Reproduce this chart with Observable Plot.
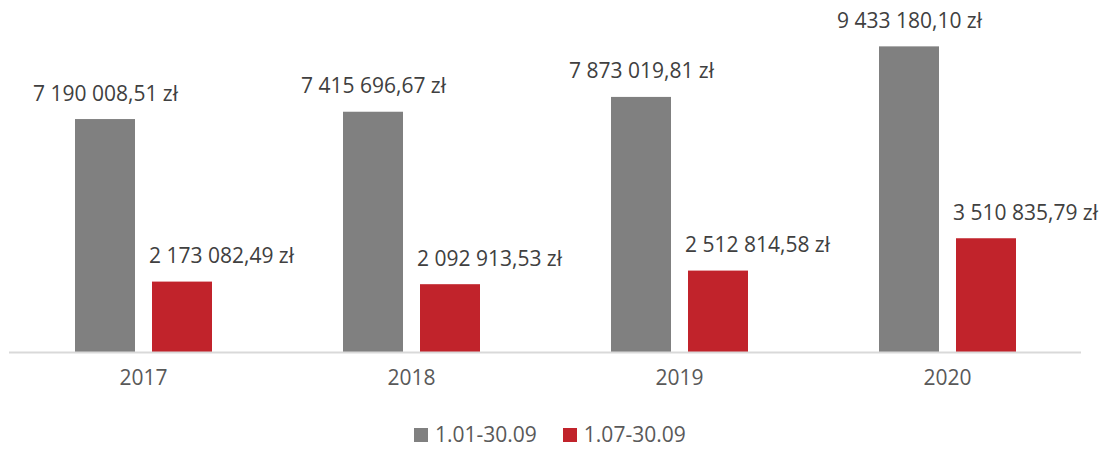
<!DOCTYPE html>
<html>
<head>
<meta charset="utf-8">
<script src="https://cdn.jsdelivr.net/npm/d3@7"></script>
<script src="https://cdn.jsdelivr.net/npm/@observablehq/plot@0.6"></script>
<style>
  html, body { margin: 0; padding: 0; background: #fff; }
  body { width: 1109px; font-family: "Open Sans", sans-serif; }
  #chart svg { display: block; }
  #legend { margin-top: 11px; padding-left: 414px; display: flex; align-items: center; font-size: 21px; color: #595959; line-height: 27px; height: 27px; }
  #legend .item { display: flex; align-items: center; margin-right: 26px; }
  #legend .sw { width: 14px; height: 14px; margin-right: 7px; }
</style>
</head>
<body>
<div id="chart"></div>
<div id="legend"></div>
<script>
const years = ["2017", "2018", "2019", "2020"];
const series = ["1.01-30.09", "1.07-30.09"];
const full = [7190008.51, 7415696.67, 7873019.81, 9433180.10];
const partial = [2173082.49, 2092913.53, 2512814.58, 3510835.79];
const colors = ["#808080", "#c1232b"];

const data = [];
years.forEach((y, i) => {
  data.push({year: y, series: series[0], value: full[i]});
  data.push({year: y, series: series[1], value: partial[i]});
});

const loc = d3.formatLocale({decimal: ",", thousands: "\u00a0", grouping: [3], currency: ["", " zł"]});
const fmt = loc.format(",.2f");
const label = d => fmt(d.value).replace(/\u00a0/g, " ") + " zł";

const chart = Plot.plot({
  width: 1109,
  height: 410,
  marginTop: 28,
  marginBottom: 58,
  marginLeft: 9,
  marginRight: 28,
  style: {fontFamily: "'Open Sans', sans-serif", fontSize: "21px", color: "#595959", background: "#fff"},
  fx: {domain: years, paddingInner: 0, paddingOuter: 0, axis: "bottom", tickSize: 0, tickPadding: 18, label: null},
  x: {domain: series, paddingInner: 0.2208, paddingOuter: 0.85, axis: null},
  y: {domain: [0, 10000000], axis: null},
  color: {domain: series, range: colors},
  marks: [
    Plot.barY(data, {fx: "year", x: "series", y: "value", fill: "series"}),
    Plot.ruleY([0], {stroke: "#d9d9d9", strokeWidth: 2}),
    Plot.text(data.filter(d => d.series === series[0]), {fx: "year", x: "series", y: "value", text: label, lineAnchor: "bottom", dy: -19, fill: "#404040", fontSize: 21}),
    Plot.text(data.filter(d => d.series === series[1]), {fx: "year", x: "series", y: "value", text: label, lineAnchor: "bottom", dy: -19, dx: 39, fill: "#404040", fontSize: 21})
  ]
});
document.getElementById("chart").appendChild(chart);

const legend = document.getElementById("legend");
series.forEach((s, i) => {
  const item = document.createElement("div");
  item.className = "item";
  const sw = document.createElement("div");
  sw.className = "sw";
  sw.style.background = colors[i];
  const t = document.createElement("span");
  t.textContent = s;
  item.appendChild(sw);
  item.appendChild(t);
  legend.appendChild(item);
});
</script>
</body>
</html>
